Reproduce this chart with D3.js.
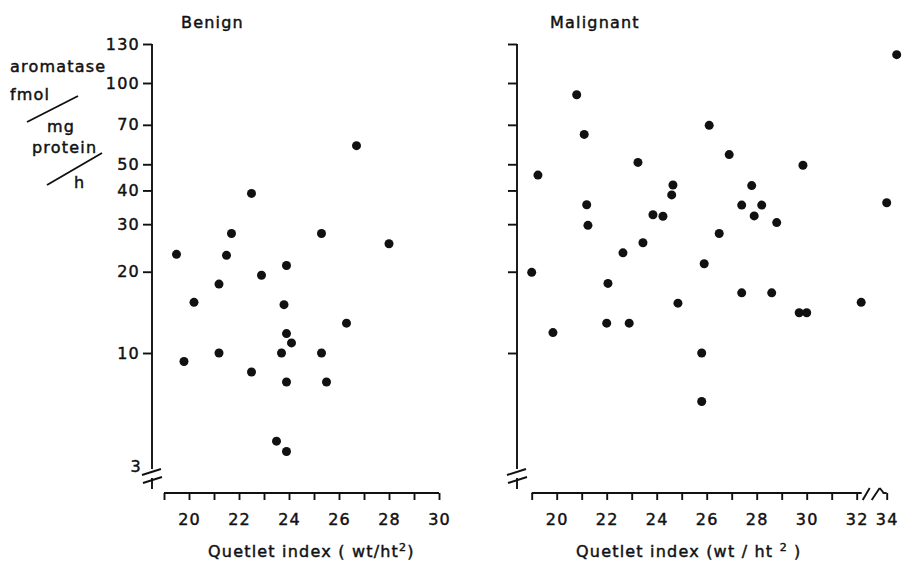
<!DOCTYPE html>
<html>
<head>
<meta charset="utf-8">
<script src="https://cdn.jsdelivr.net/npm/d3@7"></script>
<style>
  body { margin: 0; background: #fff; }
  text { font-family: "DejaVu Sans", sans-serif; font-size: 16px; letter-spacing: 1.2px;
         fill: #111; stroke: #111; stroke-width: 0.45px; }
</style>
</head>
<body>
<svg id="chart" width="902" height="563"></svg>
<script>
// values (Quetlet index, aromatase fmol/mg protein/h)
const benignQI = [26.7, 22.5, 21.7, 25.3, 28.0, 19.5, 21.5, 23.9, 22.9, 21.2, 20.2, 23.8,
    26.3, 23.9, 24.1, 21.2, 23.7, 25.3, 19.8, 22.5, 23.9, 25.5, 23.5, 23.9];
const benignArom = [58.6, 39, 27.7, 27.7, 25.4, 23.2, 23, 21.1, 19.4, 18, 15.4, 15.1,
    12.9, 11.8, 10.9, 10, 10, 10, 9.3, 8.5, 7.8, 7.8, 4.7, 4.3];

const malignantQI = [34.4, 20.8, 21.1, 26.1, 26.9, 23.25, 29.85, 19.25, 24.65, 27.8, 24.6, 21.2,
    27.4, 28.2, 34.0, 23.85, 24.25, 27.9, 21.25, 28.8, 23.45, 26.5, 22.65, 25.9, 19.0,
    22.05, 24.85, 27.4, 28.6, 29.7, 30.0, 32.3, 19.85, 22.0, 22.9, 25.8, 25.8];
const malignantArom = [121, 90.5, 64.5, 69.7, 54.3, 50.8, 49.6, 45.6, 41.9, 41.7, 38.5, 35.4,
    35.3, 35.3, 36, 32.5, 32.1, 32.2, 29.7, 30.4, 25.6, 27.7, 23.5, 21.4, 19.9,
    18.1, 15.3, 16.7, 16.7, 14.1, 14.1, 15.4, 11.9, 12.9, 12.9, 10, 6.6];

const yTicks = [10, 20, 30, 40, 50, 70, 100, 130];
const benignXTicks = d3.range(19, 31);
const malignantXTicks = d3.range(19, 33).concat([34]);

const svg = d3.select('#chart');
const ink = '#111';

// broken log axis: 3 sits at the break, 130 at the top of the axis
const y = d3.scaleLog().domain([3, 4, 10, 100, 130]).range([469, 460, 353, 83, 44]);
const xBenign = d3.scaleLinear().domain([19, 30]).range([164, 439]);
const xMalignant = d3.scaleLinear().domain([19, 32, 34, 36]).range([531.7, 856.7, 886.7, 936.7]);
const xAxisY = 493;

function line(g, x1, y1, x2, y2) {
    g.append('line')
        .attr('x1', x1).attr('y1', y1)
        .attr('x2', x2).attr('y2', y2)
        .attr('stroke', ink)
        .attr('stroke-width', 1.9);
}

function drawYAxis(x0, showLabels) {
    const g = svg.append('g').attr('transform', `translate(${x0},0)`);
    g.call(d3.axisLeft(y)
        .tickValues(yTicks)
        .tickSize(9)
        .tickPadding(3)
        .tickFormat(showLabels ? d3.format('d') : ''));
    g.select('.domain').remove();
    g.selectAll('.tick line').attr('stroke', ink).attr('stroke-width', 1.9);
    g.attr('font-size', null).attr('font-family', null);

    const b = y(3);
    line(g, 0, y(130), 0, b);
    line(g, -10, b + 6, 9, b);
    line(g, -9, b + 14, 10, b + 8);
    line(g, 0, b + 9, 0, b + 20);
    if (showLabels) {
        g.append('text')
            .attr('x', -10).attr('y', b - 2)
            .attr('dy', '0.32em')
            .attr('text-anchor', 'end')
            .text('3');
    }
}

function drawXAxis(x, ticks, broken) {
    const g = svg.append('g').attr('transform', `translate(0,${xAxisY})`);
    g.call(d3.axisBottom(x)
        .tickValues(ticks)
        .tickSize(7)
        .tickPadding(14)
        .tickFormat(d => d % 2 === 0 ? d : ''));
    g.select('.domain').remove();
    g.selectAll('.tick line').attr('stroke', ink).attr('stroke-width', 1.9);
    g.attr('font-size', null).attr('font-family', null);

    if (!broken) {
        line(g, x(19), 0, x(30), 0);
    } else {
        const p = x(32);
        line(g, x(19), 0, p + 5, 0);
        line(g, p + 6, 7, p + 13, -5);
        line(g, p + 15, 7, p + 23, -5);
        line(g, p + 23, -5, x(34) - 3, 0);
        line(g, x(34) - 4, 0, x(34), 0);
    }
}

function drawDots(x, qi, arom) {
    svg.append('g')
        .selectAll('circle')
        .data(qi.map((d, i) => ({ q: d, a: arom[i] })))
        .enter().append('circle')
        .attr('cx', d => x(d.q))
        .attr('cy', d => y(d.a))
        .attr('r', 4.5)
        .attr('fill', ink);
}

drawYAxis(152, true);
drawYAxis(517, false);
drawXAxis(xBenign, benignXTicks, false);
drawXAxis(xMalignant, malignantXTicks, true);
drawDots(xBenign, benignQI, benignArom);
drawDots(xMalignant, malignantQI, malignantArom);

// panel titles
svg.append('text').attr('x', 181).attr('y', 28).text('Benign');
svg.append('text').attr('x', 550).attr('y', 28).text('Malignant');

// y axis unit label
svg.append('text').attr('x', 10).attr('y', 72).text('aromatase');
svg.append('text').attr('x', 10).attr('y', 100).text('fmol');
svg.append('text').attr('x', 47).attr('y', 132).text('mg');
svg.append('text').attr('x', 32).attr('y', 153).text('protein');
svg.append('text').attr('x', 74).attr('y', 188).text('h');
line(svg, 27, 122, 78, 96);
line(svg, 47, 185, 102, 153);

// x axis titles
const t1 = svg.append('text').attr('x', 208).attr('y', 557);
t1.append('tspan').text('Quetlet index ( wt/ht');
t1.append('tspan').attr('font-size', 11).attr('dy', -6).text('2');
t1.append('tspan').attr('dy', 6).text(')');

const t2 = svg.append('text').attr('x', 576).attr('y', 557);
t2.append('tspan').text('Quetlet index (wt / ht ');
t2.append('tspan').attr('font-size', 11).attr('dy', -6).text('2');
t2.append('tspan').attr('dy', 6).text(' )');
</script>
</body>
</html>
